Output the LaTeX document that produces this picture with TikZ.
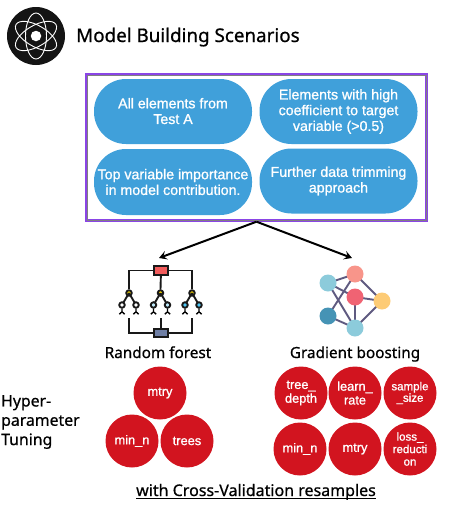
\documentclass[tikz,border=0pt]{standalone}
\usepackage{fontspec}
\setmainfont[FakeBold=1]{Liberation Sans}
\newfontfamily\headfont[FakeBold=0.7]{Noto Sans}
\definecolor{pillblue}{HTML}{40A0DA}
\definecolor{hotred}{HTML}{D2141F}
\definecolor{framepurple}{HTML}{8A45E6}
\definecolor{edgeviolet}{HTML}{5F5A80}
\definecolor{netteal}{HTML}{8CCBDB}
\definecolor{netsalmon}{HTML}{F8958A}
\definecolor{netrose}{HTML}{F06373}
\definecolor{netamber}{HTML}{FDCB75}
\definecolor{netdeep}{HTML}{4593B5}
\definecolor{boxred}{HTML}{F25C5C}
\definecolor{boxslate}{HTML}{6F7FA5}
\newcommand{\fs}[1]{\fontsize{#1}{#1}\selectfont}
\usetikzlibrary{arrows.meta}
\tikzset{
  pill/.style={draw=none,fill=pillblue,rounded corners=32pt,minimum width=158pt,minimum height=65pt,text=white,align=center,font=\fs{14.2},inner sep=0pt},
  param/.style={circle,fill=hotred,draw=none,minimum size=53pt,inner sep=0pt,text=white,align=center,font=\fs{12.8}},
  pname/.style={font=\headfont\fs{15.3},text=black,inner sep=0pt,anchor=base},
  netdot/.style={circle,draw=none,minimum size=17pt,inner sep=0pt},
  netedge/.style={draw=edgeviolet,line width=1.9pt},
  iconline/.style={draw=black!90,line width=1.9pt},
  treenode/.style={circle,draw=black!90,line width=1.9pt,minimum size=5.5pt,inner sep=0pt},
  orbit/.style={draw=white,line width=0.9pt},
  arrowline/.style={draw=black,line width=2pt,-{Stealth[length=8pt,width=9pt,inset=3.5pt]}},
}
\begin{document}
\begin{tikzpicture}[x=1pt,y=-1pt]
\useasboundingbox (0,0) rectangle (457,506);
% logo
\node[circle,fill=black!92,minimum size=58pt,inner sep=0pt] (logo) at (36,36) {};
\foreach \a in {90,30,-30}{
  \draw[orbit,rotate around={\a:(logo.center)}] (logo.center) ellipse [x radius=23pt,y radius=10.5pt];
}
\node[circle,fill=white,minimum size=10.5pt,inner sep=0pt] (nucleus) at (logo.center) {};
\node[anchor=base west,font=\headfont\fs{18.8},inner sep=0pt] (title) at (76,42) {Model Building Scenarios};
% frame
\node[draw=framepurple,line width=2.4pt,minimum width=340pt,minimum height=146pt,inner sep=0pt] (frame) at (256.5,147.5) {};
\draw[draw=gray,line width=0.8pt] ([xshift=1.6pt,yshift=1.6pt]frame.south west) rectangle ([xshift=-1.6pt,yshift=-1.6pt]frame.north east);
\node[pill] (p1) at (173,111.5) {\raisebox{1pt}{All elements from}\\[1.5pt]\raisebox{1pt}{Test A}};
\node[pill] (p2) at (338.5,111.5) {Elements with high\\[1.5pt]coefficient to target\\[1.5pt]variable (>0.5)};
\node[pill,minimum height=66pt] (p3) at (173,182) {Top variable importance\\[1.5pt]in model contribution.};
\node[pill] (p4) at (338.5,181) {Further data trimming\\[1.5pt]approach};
% arrows
\coordinate (rfin) at (159,258);
\coordinate (gbin) at (352,258);
\draw[arrowline] (frame.south) -- (rfin);
\draw[arrowline] (frame.south) -- (gbin);
% forest icon
\node[treenode,fill=yellow!80!orange] (ar) at (129,293) {};
\node[treenode,fill=yellow!80!orange] (br) at (160.5,293) {};
\node[treenode,fill=yellow!80!orange] (cr) at (192,293) {};
\foreach \n/\x/\c in {a/129/white,b/160.5/cyan!25!white,c/192/cyan!70!white}{
  \draw[iconline] (\n r.center) -- (\x-7,305);
  \draw[iconline] (\n r.center) -- (\x+7,305);
  \node[treenode,fill=\c] (\n l) at (\x-7,305) {};
  \node[treenode,fill=\c] (\n g) at (\x+7,305) {};
  \foreach \k in {l,g}{
    \draw[black,line width=1.3pt] (\n\k.south) -- ++(0,3) ++(-2.6,2.5) -- ++(2.6,-2.5) -- ++(2.6,2.5);
  }
}
\draw[iconline] (ar.north) |- (161,270.5) -| (cr.north);
\draw[iconline] (br.north) -- (161,270.5);
\coordinate (al) at (129,318);
\coordinate (bl) at (161,318);
\coordinate (cl) at (192,318);
\draw[iconline] (al) |- (161,333) -| (cl);
\draw[iconline] (bl) -- (161,333);
\node[draw=black!90,line width=1.8pt,fill=boxred,minimum width=14pt,minimum height=8.5pt,inner sep=0pt] (topbox) at (161,270.5) {};
\node[draw=black!90,line width=1.8pt,fill=boxslate,minimum width=14pt,minimum height=8.5pt,inner sep=0pt] (botbox) at (161,333) {};
% network icon
\coordinate (na) at (328,283);
\coordinate (nb) at (355,274);
\coordinate (nc) at (355,297);
\coordinate (nd) at (382,301);
\coordinate (ne) at (328,316);
\coordinate (nf) at (355,328);
\foreach \p/\q in {na/nb,na/nc,na/nf,nb/ne,nb/nd,nc/nd,nc/nf,nd/nf,ne/nf}{
  \draw[netedge] (\p) -- (\q);
}
\node[netdot,fill=netteal] at (na) {};
\node[netdot,fill=netsalmon] at (nb) {};
\node[netdot,fill=netrose] at (nc) {};
\node[netdot,fill=netamber] at (nd) {};
\node[netdot,fill=netdeep] at (ne) {};
\node[netdot,fill=netteal] at (nf) {};
% headings
\node[pname] (rf) at (158,358) {Random forest};
\node[pname] (gb) at (355,358) {Gradient boosting};
\node[anchor=west,align=left,font=\headfont\fs{15.8},inner sep=0pt] (hp) at (1,422) {Hyper-\\[3.5pt]parameter\\[3.5pt]Tuning};
% params
\node[param] (c1) at (160,393) {mtry};
\node[param] (c2) at (132,441) {min\_n};
\node[param] (c3) at (187,441) {trees};
\node[param] (g1) at (301,393) {tree\_\\[1pt]depth};
\node[param] (g2) at (355,393) {learn\_\\[1pt]rate};
\node[param,font=\fs{11.5}] (g3) at (410,393) {sample\\\_size};
\node[param] (g4) at (300,449) {min\_n};
\node[param] (g5) at (355,449) {mtry};
\node[param,font=\fs{11.5}] (g6) at (410,449) {loss\_\\[1pt]reducti\\[1pt]on};
\node[font=\headfont\fs{16},inner sep=0pt,anchor=base] (cv) at (256,496) {with Cross-Validation resamples};
\coordinate (ula) at (136,498.8);
\coordinate (ulb) at (376,498.8);
\draw[black,line width=0.8pt] (ula) -- (ulb);
\end{tikzpicture}
\end{document}
